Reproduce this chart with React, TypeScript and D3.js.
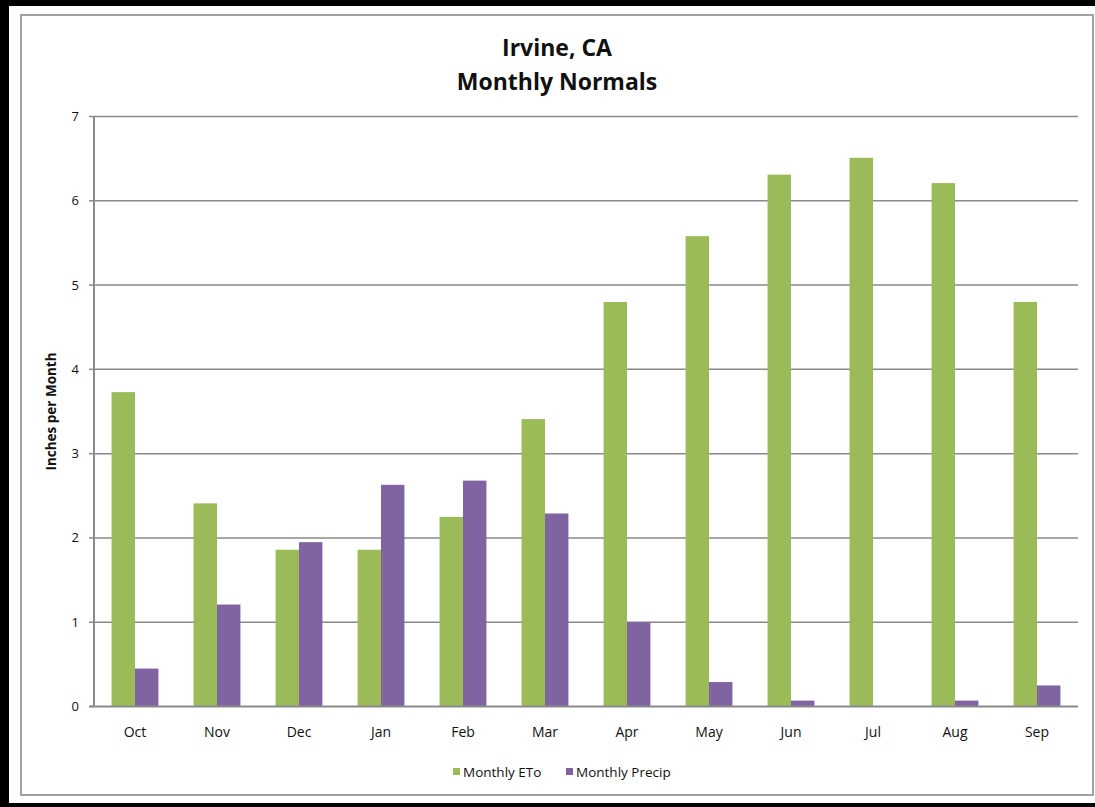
import React from "react";
import * as d3 from "d3";

const months = ["Oct", "Nov", "Dec", "Jan", "Feb", "Mar", "Apr", "May", "Jun", "Jul", "Aug", "Sep"];
const etoValues = [3.73, 2.41, 1.86, 1.86, 2.25, 3.41, 4.8, 5.58, 6.31, 6.51, 6.21, 4.8];
const precipValues = [0.45, 1.21, 1.95, 2.63, 2.68, 2.29, 1.0, 0.29, 0.07, 0.0, 0.07, 0.25];
const yTicks = [0, 1, 2, 3, 4, 5, 6, 7];
const seriesNames = ["Monthly ETo", "Monthly Precip"];
const seriesColors = ["#9BBB59", "#8064A2"];

const W = 1095;
const H = 807;
const plot = { left: 94, right: 1078, top: 116.5, bottom: 706.5 };
const FONT = "'Open Sans', Lato, sans-serif";

export default function App() {
  // category slots with a 150% gap between groups of two bars
  const x = d3.scaleBand<string>().domain(months).range([plot.left, plot.right]).paddingInner(0).paddingOuter(0);
  const groupW = x.bandwidth();
  const barW = groupW / 3.5;
  const y = d3.scaleLinear().domain([0, 7]).range([plot.bottom, plot.top]);
  const sub = d3.scaleBand<number>().domain([0, 1]).range([0, barW * 2]);

  const groupStart = (m: string) => (x(m) as number) + (groupW - barW * 2) / 2;
  const series = [etoValues, precipValues];

  return (
    <svg width={W} height={H} style={{ position: "absolute", left: 0, top: 0, background: "#fff" }}>
      {/* outer frame */}
      <rect x={0} y={0} width={W} height={H} fill="#fff" />
      <rect x={0} y={0} width={W} height={6} fill="#000" />
      <rect x={0} y={0} width={9} height={H} fill="#000" />
      <rect x={0} y={803} width={W} height={4} fill="#000" />
      <rect x={21} y={15} width={1072} height={780} fill="none" stroke="#a0a0a0" strokeWidth={2} />

      {/* title */}
      <text x={557} y={56} textAnchor="middle" fontFamily={FONT} fontWeight="bold" fontSize={23} fill="#111">Irvine, CA</text>
      <text x={557} y={90} textAnchor="middle" fontFamily={FONT} fontWeight="bold" fontSize={23} fill="#111">Monthly Normals</text>

      {/* gridlines and y ticks */}
      {yTicks.map((t) => (
        <g key={t}>
          {t > 0 && (
            <line x1={plot.left} x2={plot.right} y1={y(t)} y2={y(t)} stroke="#8a8a8a" strokeWidth={1.5} />
          )}
          <line x1={plot.left - 5} x2={plot.left} y1={y(t)} y2={y(t)} stroke="#8a8a8a" strokeWidth={1.5} />
          <text x={79} y={y(t) + 4.5} textAnchor="end" fontFamily={FONT} fontSize={13} fill="#111">{t}</text>
        </g>
      ))}

      {/* bars */}
      {months.map((m, i) => (
        <g key={m}>
          {series.map((vals, s) => (
            <rect
              key={s}
              x={groupStart(m) + (sub(s) as number)}
              y={y(vals[i])}
              width={sub.bandwidth()}
              height={plot.bottom - y(vals[i])}
              fill={seriesColors[s]}
            />
          ))}
          <text x={(x(m) as number) + groupW / 2} y={737} textAnchor="middle" fontFamily={FONT} fontSize={14} fill="#111">{m}</text>
        </g>
      ))}

      {/* axes */}
      <line x1={plot.left} x2={plot.left} y1={plot.top} y2={plot.bottom} stroke="#8a8a8a" strokeWidth={2} />
      <line x1={plot.left - 5} x2={plot.right} y1={plot.bottom} y2={plot.bottom} stroke="#8a8a8a" strokeWidth={2} />

      {/* y axis title */}
      <text
        transform={`translate(56, ${(plot.top + plot.bottom) / 2}) rotate(-90)`}
        textAnchor="middle"
        fontFamily={FONT}
        fontWeight="bold"
        fontSize={13.5}
        fill="#111"
      >
        Inches per Month
      </text>

      {/* legend */}
      <rect x={453} y={768} width={7} height={7} fill={seriesColors[0]} />
      <text x={463} y={777} fontFamily={FONT} fontSize={13.5} fill="#111">{seriesNames[0]}</text>
      <rect x={566} y={768} width={7} height={7} fill={seriesColors[1]} />
      <text x={576} y={777} fontFamily={FONT} fontSize={13.5} fill="#111">{seriesNames[1]}</text>
    </svg>
  );
}
